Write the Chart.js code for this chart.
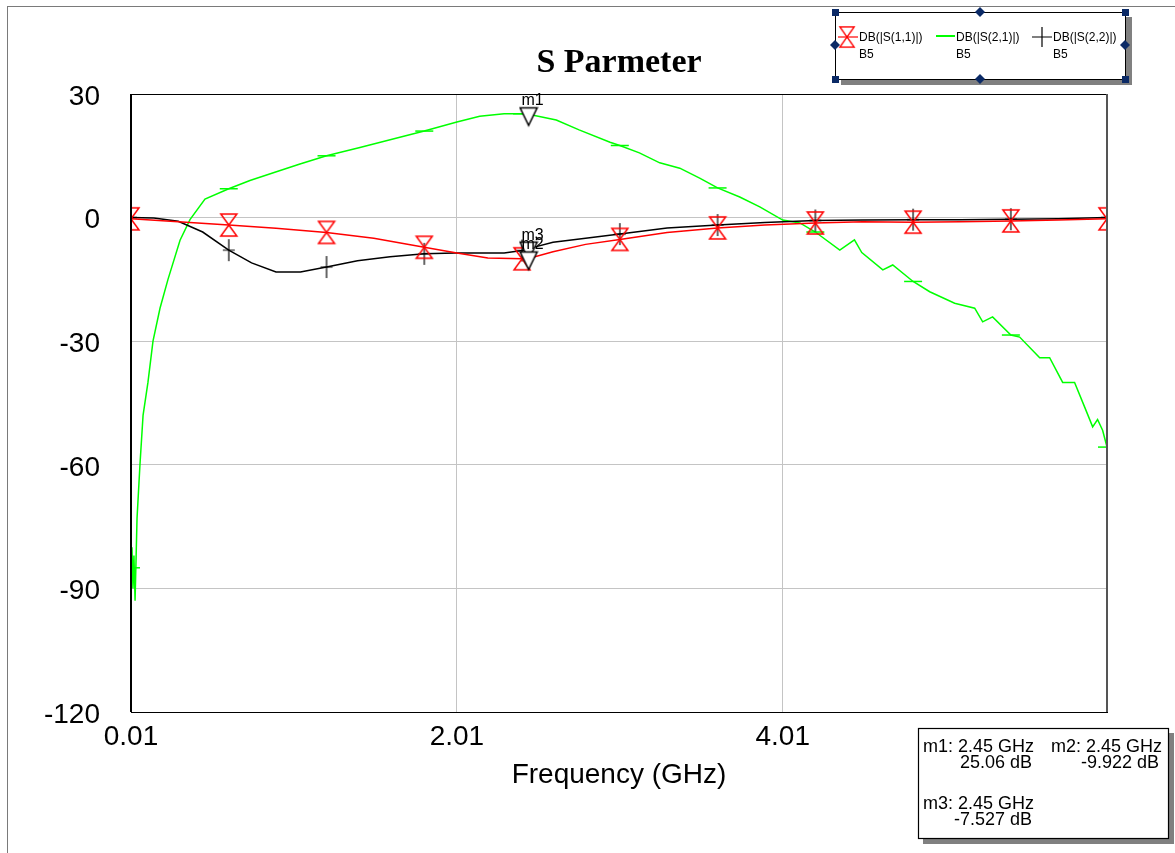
<!DOCTYPE html>
<html>
<head>
<meta charset="utf-8">
<title>S Parmeter</title>
<script src="https://cdn.jsdelivr.net/npm/chart.js@4.4.1/dist/chart.umd.min.js"></script>
<style>
    html, body { margin: 0; padding: 0; background: #fff; }
    #wrap { width: 1175px; height: 853px; }
</style>
</head>
<body>
<div id="wrap"><canvas id="sChart" width="1175" height="853"></canvas></div>
<script>
// DB(|S(1,1)|) - red
const s11Freq = [0.01, 0.3, 0.61, 0.9, 1.21, 1.5, 1.81, 2.01, 2.2, 2.41, 2.45, 2.6, 2.8, 3.01, 3.3, 3.61, 3.9, 4.21, 4.5, 4.81, 5.1, 5.41, 5.7, 6.0];
const s11Db = [-0.3, -1.0, -1.8, -2.6, -3.6, -5.0, -7.2, -8.6, -9.8, -10.0, -9.922, -8.3, -6.5, -5.3, -3.6, -2.5, -1.8, -1.3, -1.0, -1.1, -1.0, -0.8, -0.6, -0.3];

// DB(|S(2,1)|) - green
const s21Freq = [0.01, 0.016, 0.022, 0.028, 0.035, 0.047, 0.065, 0.084, 0.114, 0.145, 0.188, 0.237, 0.311, 0.372, 0.464, 0.61, 0.74, 0.893, 1.047, 1.21, 1.415, 1.66, 1.81, 2.01, 2.15, 2.3, 2.41, 2.45, 2.62, 2.76, 2.95, 3.01, 3.13, 3.255, 3.378, 3.5, 3.61, 3.746, 3.869, 4.01, 4.115, 4.21, 4.36, 4.45, 4.495, 4.624, 4.685, 4.81, 4.912, 5.065, 5.188, 5.237, 5.298, 5.41, 5.464, 5.587, 5.648, 5.728, 5.801, 5.863, 5.912, 5.942, 5.973, 6.0];
const s21Db = [-85, -80, -90, -82, -93, -73, -60, -48, -40, -30, -22, -15, -5.5, -0.5, 4.5, 7, 9, 11, 13, 15, 17, 19.5, 21, 23.2, 24.6, 25.2, 25.2, 25.06, 23.7, 21.3, 18.3, 17.5, 15.7, 13.3, 12, 9.6, 7.2, 5, 2.6, -0.6, -1.3, -3.5, -7.9, -5.4, -8.5, -12.7, -11.5, -15.5, -18, -20.8, -22, -25.3, -24.1, -28.5, -29, -34, -34, -40, -40, -46, -50.8, -49, -51.6, -55.7];

// DB(|S(2,2)|) - black
const s22Freq = [0.01, 0.15, 0.3, 0.45, 0.61, 0.75, 0.9, 1.05, 1.21, 1.4, 1.6, 1.81, 2.0, 2.3, 2.41, 2.45, 2.6, 2.8, 3.01, 3.3, 3.61, 3.9, 4.21, 4.5, 4.81, 5.1, 5.41, 5.7, 6.0];
const s22Db = [0, -0.1, -0.9, -3.5, -7.9, -11, -13.2, -13.2, -12.0, -10.5, -9.5, -8.8, -8.6, -8.6, -8.0, -7.527, -6.0, -5.0, -4.0, -2.5, -1.8, -1.2, -0.7, -0.6, -0.5, -0.5, -0.4, -0.3, 0];

// symbol positions along each trace
const symbolFreq = [0.01, 0.61, 1.21, 1.81, 2.41, 3.01, 3.61, 4.21, 4.81, 5.41, 6.0];

const xTicks = [0.01, 2.01, 4.01];
const yTicks = [30, 0, -30, -60, -90, -120];

const markerNames = ['m1', 'm2', 'm3'];
const markerFreq = [2.45, 2.45, 2.45];
const markerDb = [25.06, -9.922, -7.527];

const legendNames = ['DB(|S(1,1)|)', 'DB(|S(2,1)|)', 'DB(|S(2,2)|)'];
const legendSub = 'B5';

const SANS = '"Liberation Sans", Arial, sans-serif';
const SERIF = '"Liberation Serif", "Times New Roman", serif';

function toPoints(xs, ys) {
    return xs.map((x, i) => ({ x: x, y: ys[i] }));
}

// point symbols
function makeBowtie() {
    const c = document.createElement('canvas');
    c.width = 20; c.height = 26;
    const g = c.getContext('2d');
    g.strokeStyle = '#ff0000';
    g.lineWidth = 1.5;
    g.beginPath();
    g.moveTo(2, 2); g.lineTo(18, 2); g.lineTo(2, 24); g.lineTo(18, 24);
    g.closePath();
    g.stroke();
    return c;
}

function makePlus() {
    const c = document.createElement('canvas');
    c.width = 14; c.height = 24;
    const g = c.getContext('2d');
    g.strokeStyle = '#000';
    g.lineWidth = 1.2;
    g.beginPath();
    g.moveTo(7, 1); g.lineTo(7, 23);
    g.moveTo(1, 12); g.lineTo(13, 12);
    g.stroke();
    return c;
}

function makeMarkerTri() {
    const c = document.createElement('canvas');
    c.width = 20; c.height = 34;
    const g = c.getContext('2d');
    g.fillStyle = '#fff';
    g.strokeStyle = '#000';
    g.lineWidth = 1.5;
    g.beginPath();
    g.moveTo(1.5, 10.5); g.lineTo(18.5, 10.5); g.lineTo(10, 28);
    g.closePath();
    g.fill();
    g.stroke();
    return c;
}

const bowtie = makeBowtie();
const plus = makePlus();
const markerTri = makeMarkerTri();

const isSymbol = ctx => ctx.raw && symbolFreq.includes(ctx.raw.x);

const decorPlugin = {
    id: 'decor',
    afterDraw(chart) {
        const ctx = chart.ctx;
        const a = chart.chartArea;
        const xs = chart.scales.x;
        const ys = chart.scales.y;
        ctx.save();

        // outer frame
        ctx.strokeStyle = '#7a7a7a';
        ctx.lineWidth = 1;
        ctx.strokeRect(7.5, 6.5, 1200, 900);

        // plot frame
        ctx.strokeStyle = '#000';
        ctx.strokeRect(a.left + 0.5, a.top + 0.5, a.right - a.left, a.bottom - a.top);
        ctx.lineWidth = 2;
        ctx.beginPath();
        ctx.moveTo(a.left, a.top);
        ctx.lineTo(a.left, a.bottom);
        ctx.stroke();
        ctx.strokeStyle = '#555';
        ctx.beginPath();
        ctx.moveTo(a.right, a.top);
        ctx.lineTo(a.right, a.bottom);
        ctx.stroke();

        // title
        ctx.fillStyle = '#000';
        ctx.textAlign = 'center';
        ctx.textBaseline = 'middle';
        ctx.font = 'bold 34px ' + SERIF;
        ctx.fillText('S Parmeter', (a.left + a.right) / 2, 63);

        // x axis title
        ctx.font = '28px ' + SANS;
        ctx.fillText('Frequency (GHz)', (a.left + a.right) / 2, 775);

        // marker labels
        ctx.font = '16px ' + SANS;
        ctx.textBaseline = 'alphabetic';
        markerNames.forEach((n, i) => {
            const px = xs.getPixelForValue(markerFreq[i]);
            const py = ys.getPixelForValue(markerDb[i]);
            ctx.fillText(n, px + 4, py - 9);
        });

        // legend box
        ctx.fillStyle = '#808080';
        ctx.fillRect(841, 17, 291, 68);
        ctx.fillStyle = '#fff';
        ctx.fillRect(835, 12, 290, 67);
        ctx.strokeStyle = '#000';
        ctx.lineWidth = 1;
        ctx.strokeRect(835.5, 12.5, 290, 67);
        ctx.fillStyle = '#0b2a66';
        [[835, 12], [1125, 12], [835, 79], [1125, 79]].forEach(p => {
            ctx.fillRect(p[0] - 3, p[1] - 3, 7, 7);
        });
        [[980, 12], [980, 79], [835, 45], [1125, 45]].forEach(p => {
            ctx.beginPath();
            ctx.moveTo(p[0], p[1] - 5);
            ctx.lineTo(p[0] + 5, p[1]);
            ctx.lineTo(p[0], p[1] + 5);
            ctx.lineTo(p[0] - 5, p[1]);
            ctx.closePath();
            ctx.fill();
        });

        // legend symbols
        ctx.strokeStyle = '#ff0000';
        ctx.lineWidth = 1.2;
        ctx.beginPath();
        ctx.moveTo(838, 37); ctx.lineTo(858, 37);
        ctx.stroke();
        ctx.drawImage(bowtie, 838, 25, 18, 24);
        ctx.strokeStyle = '#00ff00';
        ctx.lineWidth = 2;
        ctx.beginPath();
        ctx.moveTo(936, 36); ctx.lineTo(955, 36);
        ctx.stroke();
        ctx.strokeStyle = '#000';
        ctx.lineWidth = 1.2;
        ctx.beginPath();
        ctx.moveTo(1032, 37); ctx.lineTo(1052, 37);
        ctx.moveTo(1042, 27); ctx.lineTo(1042, 47);
        ctx.stroke();

        ctx.fillStyle = '#000';
        ctx.font = '12px ' + SANS;
        ctx.textAlign = 'left';
        ctx.textBaseline = 'middle';
        const lx = [859, 956, 1053];
        legendNames.forEach((n, i) => {
            ctx.fillText(n, lx[i], 38);
            ctx.fillText(legendSub, lx[i], 55);
        });

        // marker readout box
        ctx.fillStyle = '#808080';
        ctx.fillRect(923, 733, 251, 111);
        ctx.fillStyle = '#fff';
        ctx.fillRect(918, 728, 250, 110);
        ctx.strokeStyle = '#000';
        ctx.strokeRect(918.5, 728.5, 250, 110);

        ctx.fillStyle = '#000';
        ctx.font = '18px ' + SANS;
        const cells = [
            { lx: 923, rx: 1032, y: 747 },
            { lx: 1051, rx: 1159, y: 747 },
            { lx: 923, rx: 1032, y: 804 }
        ];
        markerNames.forEach((n, i) => {
            const c = cells[i];
            ctx.textAlign = 'left';
            ctx.fillText(n + ': ' + markerFreq[i].toFixed(2) + ' GHz', c.lx, c.y);
            ctx.textAlign = 'right';
            ctx.fillText(markerDb[i] + ' dB', c.rx, c.y + 16);
        });

        ctx.restore();
    }
};

const datasets = [
    {
        label: legendNames[0],
        data: toPoints(s11Freq, s11Db),
        borderColor: '#ff0000',
        borderWidth: 1.5,
        pointStyle: bowtie,
        pointRadius: ctx => isSymbol(ctx) ? 9 : 0,
        pointHoverRadius: 0,
        order: 1
    },
    {
        label: legendNames[1],
        data: toPoints(s21Freq, s21Db),
        borderColor: '#00ff00',
        borderWidth: 1.5,
        pointStyle: 'line',
        pointBorderColor: '#00ff00',
        pointBorderWidth: 1.5,
        pointRadius: ctx => isSymbol(ctx) ? 9 : 0,
        pointHoverRadius: 0,
        order: 3
    },
    {
        label: legendNames[2],
        data: toPoints(s22Freq, s22Db),
        borderColor: '#000000',
        borderWidth: 1.5,
        pointStyle: plus,
        pointRadius: ctx => isSymbol(ctx) ? 9 : 0,
        pointHoverRadius: 0,
        order: 2
    }
];

markerNames.forEach((n, i) => {
    datasets.push({
        label: n,
        data: [{ x: markerFreq[i], y: markerDb[i] }],
        showLine: false,
        pointStyle: markerTri,
        pointRadius: 9,
        clip: false,
        order: 0
    });
});

new Chart(document.getElementById('sChart').getContext('2d'), {
    type: 'line',
    data: { datasets: datasets },
    options: {
        responsive: false,
        animation: false,
        layout: { padding: { top: 94, right: 68, bottom: 0, left: 0 } },
        plugins: {
            legend: { display: false },
            title: { display: false },
            tooltip: { enabled: false }
        },
        elements: { line: { tension: 0 } },
        scales: {
            x: {
                type: 'linear',
                min: 0.01,
                max: 6,
                afterBuildTicks: s => { s.ticks = xTicks.map(v => ({ value: v })); },
                afterFit: s => { s.height = 141; },
                ticks: {
                    autoSkip: false,
                    maxRotation: 0,
                    padding: 8,
                    color: '#000',
                    font: { family: SANS, size: 28 },
                    callback: v => v.toFixed(2)
                },
                grid: { color: '#c4c4c4', lineWidth: 1, drawTicks: false },
                border: { display: false }
            },
            y: {
                type: 'linear',
                min: -120,
                max: 30,
                afterBuildTicks: s => { s.ticks = yTicks.map(v => ({ value: v })); },
                afterFit: s => { s.width = 131; },
                ticks: {
                    padding: 31,
                    labelOffset: 3,
                    color: '#000',
                    font: { family: SANS, size: 28 }
                },
                grid: { color: '#c4c4c4', lineWidth: 1, drawTicks: false },
                border: { display: false }
            }
        }
    },
    plugins: [decorPlugin]
});
</script>
</body>
</html>
